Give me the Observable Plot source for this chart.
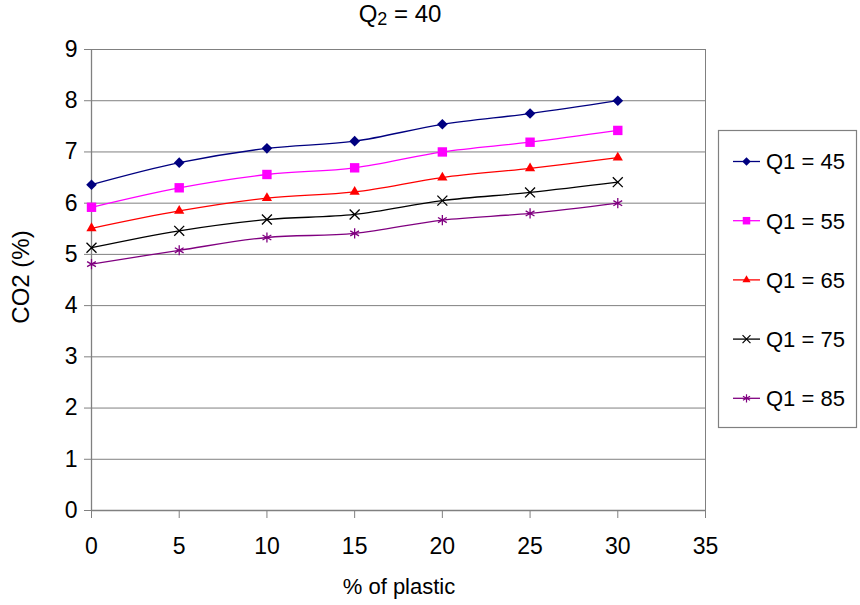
<!DOCTYPE html>
<html><head><meta charset="utf-8">
<script src="https://cdn.jsdelivr.net/npm/d3@7"></script>
<script src="https://cdn.jsdelivr.net/npm/@observablehq/plot@0.6"></script>
<style>
body{margin:0;background:#fff;}
svg{font-family:"Liberation Sans",Arial,sans-serif;}
</style>
</head><body><div id="chart"></div>
<script>
const plasticPct = [0, 5, 10, 15, 20, 25, 30];
const seriesNames = ["Q1 = 45", "Q1 = 55", "Q1 = 65", "Q1 = 75", "Q1 = 85"];
const q1_45 = [6.36, 6.79, 7.07, 7.21, 7.54, 7.75, 8.00];
const q1_55 = [5.92, 6.30, 6.56, 6.69, 7.00, 7.19, 7.42];
const q1_65 = [5.51, 5.85, 6.10, 6.22, 6.50, 6.68, 6.89];
const q1_75 = [5.13, 5.46, 5.68, 5.78, 6.05, 6.21, 6.41];
const q1_85 = [4.81, 5.08, 5.33, 5.41, 5.67, 5.80, 6.00];
const xTicks = [0, 5, 10, 15, 20, 25, 30, 35];
const yTicks = [0, 1, 2, 3, 4, 5, 6, 7, 8, 9];
const seriesColors = ["#000080", "#FF00FF", "#FF0000", "#000000", "#800080"];
const seriesSymbols = ["diamond2", "square", "triangle", "times", "asterisk"];
const seriesRadius = [4.8, 5.3, 3.8, 4.6, 4.8];

const allSeries = [q1_45, q1_55, q1_65, q1_75, q1_85];
const rows = [];
allSeries.forEach((vals, si) => vals.forEach((v, i) => rows.push({x: plasticPct[i], y: v, s: seriesNames[si], si})));

const gray = "#808080";
const marks = [
  Plot.gridY(yTicks, {stroke: gray, strokeOpacity: 1, strokeWidth: 1}),
  Plot.ruleX([0], {stroke: gray, strokeWidth: 1.3}),
  Plot.ruleX([35], {stroke: gray, strokeWidth: 1}),
  Plot.ruleY([0], {stroke: gray, strokeWidth: 1.3}),
  Plot.axisY(yTicks, {tickSize: 7, tickPadding: 7, fontSize: 22, tickFormat: d3.format("d"), stroke: gray, fill: "#000", label: null}),
  Plot.axisX(xTicks, {tickSize: 8, tickPadding: 19, fontSize: 22, tickFormat: d3.format("d"), stroke: gray, fill: "#000", label: null})
];
seriesNames.forEach((name, si) => {
  const d = rows.filter(r => r.si === si);
  marks.push(Plot.line(d, {x: "x", y: "y", stroke: seriesColors[si], strokeWidth: 1.3, curve: "catmull-rom"}));
  const st = seriesSymbols[si] === "times" || seriesSymbols[si] === "asterisk";
  marks.push(Plot.dot(d, {x: "x", y: "y", symbol: () => seriesSymbols[si], r: seriesRadius[si],
    fill: st ? "none" : seriesColors[si], stroke: st ? seriesColors[si] : "none", strokeWidth: 1.3}));
});

const chart = Plot.plot({
  width: 860, height: 605,
  marginLeft: 91, marginRight: 155, marginTop: 49, marginBottom: 95,
  x: {domain: [0, 35]},
  y: {domain: [0, 9]},
  style: {fontFamily: '"Liberation Sans", Arial, sans-serif', fontSize: "22px", color: "#000", background: "#fff"},
  marks
});

const svg = d3.select(chart);
// enlarge the axis tick labels drawn by Plot
svg.selectAll("text").attr("font-size", 23).style("font-size", "23px");
// Title
const t = svg.append("text").attr("x", 400).attr("y", 22).attr("text-anchor", "middle")
  .attr("font-size", 24).attr("fill", "#000");
t.append("tspan").text("Q");
t.append("tspan").attr("font-size", 18).attr("dy", 3).text("2");
t.append("tspan").attr("dy", -3).text(" = 40");
// Axis titles
svg.append("text").attr("x", 399).attr("y", 594).attr("text-anchor", "middle")
  .attr("font-size", 22).attr("fill", "#000").text("% of plastic");
svg.append("text").attr("transform", "translate(29,277) rotate(-90)").attr("text-anchor", "middle")
  .attr("font-size", 24).attr("fill", "#000").text("CO2 (%)");
// Legend
const lg = svg.append("g").attr("text-anchor", "start");
lg.append("rect").attr("x", 718.5).attr("y", 130.5).attr("width", 138).attr("height", 297)
  .attr("fill", "#fff").attr("stroke", gray).attr("stroke-width", 1.2);
const symMap = {diamond2: d3.symbolDiamond2, square: d3.symbolSquare, triangle: d3.symbolTriangle, times: d3.symbolTimes, asterisk: d3.symbolAsterisk};
seriesNames.forEach((name, si) => {
  const cy = 161.5 + si * 59.2;
  lg.append("line").attr("x1", 733).attr("x2", 760).attr("y1", cy).attr("y2", cy)
    .attr("stroke", seriesColors[si]).attr("stroke-width", 1.3);
  const st = seriesSymbols[si] === "times" || seriesSymbols[si] === "asterisk";
  const rr = seriesRadius[si] * 0.8;
  lg.append("path").attr("transform", `translate(746.5,${cy})`)
    .attr("d", d3.symbol(symMap[seriesSymbols[si]], rr * rr * Math.PI)())
    .attr("fill", st ? "none" : seriesColors[si]).attr("stroke", st ? seriesColors[si] : "none").attr("stroke-width", 1.2);
  lg.append("text").attr("x", 766).attr("y", cy).attr("dy", "0.36em").attr("font-size", 22)
    .attr("text-anchor", "start").attr("fill", "#000").text(name);
});

document.getElementById("chart").appendChild(chart);
</script>
</body></html>
